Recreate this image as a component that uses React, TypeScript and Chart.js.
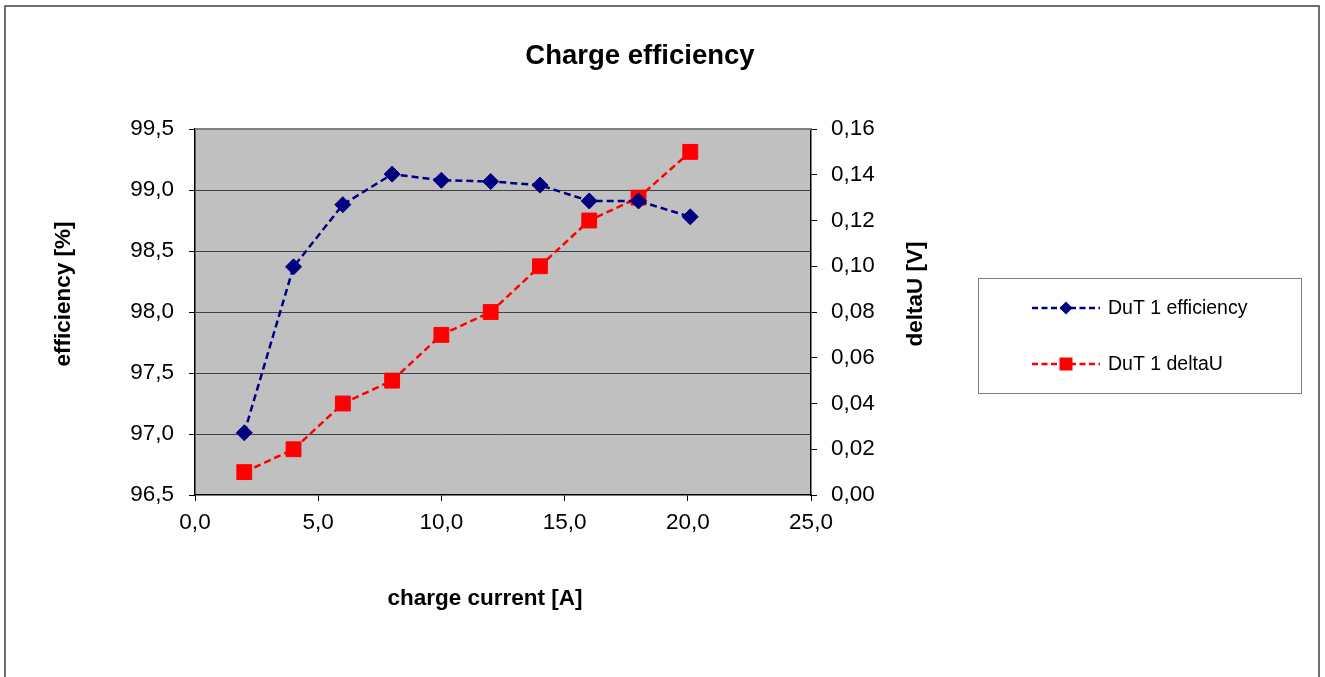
import React, { useEffect, useRef } from "react";
import { Chart, registerables } from "chart.js";

Chart.register(...registerables);

// ---- data ----
const chargeCurrent = [2.0, 4.0, 6.0, 8.0, 10.0, 12.0, 14.0, 16.0, 18.0, 20.1];
const efficiency = [97.01, 98.37, 98.88, 99.13, 99.08, 99.07, 99.04, 98.91, 98.91, 98.78];
const deltaU = [0.01, 0.02, 0.04, 0.05, 0.07, 0.08, 0.1, 0.12, 0.13, 0.15];

const xTicks = [0, 5, 10, 15, 20, 25];
const effTicks = [96.5, 97.0, 97.5, 98.0, 98.5, 99.0, 99.5];
const duTicks = [0, 0.02, 0.04, 0.06, 0.08, 0.1, 0.12, 0.14, 0.16];

const seriesLabels = ["DuT 1 efficiency", "DuT 1 deltaU"];
const chartTitle = "Charge efficiency";
const xTitle = "charge current [A]";
const yLeftTitle = "efficiency [%]";
const yRightTitle = "deltaU [V]";

const FONT = '"Liberation Sans", Arial, Helvetica, sans-serif';
const NAVY = "#000080";
const RED = "#FF0000";

function drawMarker(ctx: CanvasRenderingContext2D, style: string, x: number, y: number, r: number, color: string) {
  ctx.save();
  ctx.fillStyle = color;
  ctx.beginPath();
  if (style === "rectRot") {
    ctx.moveTo(x, y - r);
    ctx.lineTo(x + r, y);
    ctx.lineTo(x, y + r);
    ctx.lineTo(x - r, y);
    ctx.closePath();
  } else {
    ctx.rect(x - r, y - r, 2 * r, 2 * r);
  }
  ctx.fill();
  ctx.restore();
}

const decor = {
  id: "decor",
  beforeDraw(chart: any) {
    const { ctx, chartArea: a } = chart;
    ctx.save();
    ctx.fillStyle = "#FFFFFF";
    ctx.fillRect(0, 0, chart.width, chart.height);
    ctx.fillStyle = "#C0C0C0";
    ctx.fillRect(a.left, a.top, a.right - a.left, a.bottom - a.top);
    ctx.restore();
  },
  beforeDatasetsDraw(chart: any) {
    const { ctx, chartArea: a } = chart;
    ctx.save();
    ctx.strokeStyle = "#808080";
    ctx.lineWidth = 2;
    ctx.beginPath();
    ctx.moveTo(a.left, a.top);
    ctx.lineTo(a.right, a.top);
    ctx.stroke();
    ctx.restore();
  },
  afterDraw(chart: any) {
    const { ctx } = chart;
    ctx.save();
    // outer frame
    ctx.strokeStyle = "#404040";
    ctx.lineWidth = 1.5;
    ctx.strokeRect(5, 6, 1314, 700);

    ctx.fillStyle = "#000";
    // chart title
    ctx.font = `bold 27.5px ${FONT}`;
    ctx.textAlign = "center";
    ctx.textBaseline = "middle";
    ctx.fillText(chartTitle, 640, 56);

    // axis titles
    ctx.font = `bold 22.5px ${FONT}`;
    ctx.fillText(xTitle, 485, 599);

    ctx.save();
    ctx.translate(64, 294);
    ctx.rotate(-Math.PI / 2);
    ctx.fillText(yLeftTitle, 0, 0);
    ctx.restore();

    ctx.save();
    ctx.translate(916, 294);
    ctx.rotate(-Math.PI / 2);
    ctx.fillText(yRightTitle, 0, 0);
    ctx.restore();

    // legend
    ctx.strokeStyle = "#808080";
    ctx.lineWidth = 1;
    ctx.strokeRect(978.5, 278.5, 323, 115);
    const rows = [308, 364];
    chart.data.datasets.forEach((ds: any, i: number) => {
      const y = rows[i];
      ctx.save();
      ctx.strokeStyle = ds.borderColor;
      ctx.lineWidth = 2.5;
      ctx.setLineDash([6, 3.5]);
      ctx.beginPath();
      ctx.moveTo(1032, y);
      ctx.lineTo(1100, y);
      ctx.stroke();
      ctx.restore();
      if (ds.pointStyle === "rectRot") drawMarker(ctx, "rectRot", 1066, y, 6.5, ds.borderColor);
      else drawMarker(ctx, "rect", 1066, y, 6.5, ds.borderColor);
      ctx.fillStyle = "#000";
      ctx.font = `19.5px ${FONT}`;
      ctx.textAlign = "left";
      ctx.textBaseline = "middle";
      ctx.fillText(ds.label, 1108, y + 1);
    });
    ctx.restore();
  },
};

const fmt = (d: number) => (v: any) => Number(v).toFixed(d).replace(".", ",");

export default function App() {
  const ref = useRef<HTMLCanvasElement | null>(null);

  useEffect(() => {
    document.body.style.margin = "0";
    document.body.style.overflow = "hidden";
    const canvas = ref.current;
    if (!canvas) return;
    const tickFont = { family: FONT, size: 22.5 };
    const chart = new Chart(canvas, {
      type: "line",
      data: {
        datasets: [
          {
            label: seriesLabels[0],
            data: chargeCurrent.map((x, i) => ({ x, y: efficiency[i] })),
            yAxisID: "y",
            borderColor: NAVY,
            backgroundColor: NAVY,
            borderWidth: 2.5,
            borderDash: [7, 4],
            pointStyle: "rectRot",
            pointRadius: 8,
            pointBorderWidth: 1,
            pointBackgroundColor: NAVY,
            pointBorderColor: NAVY,
            tension: 0,
            fill: false,
          },
          {
            label: seriesLabels[1],
            data: chargeCurrent.map((x, i) => ({ x, y: deltaU[i] })),
            yAxisID: "y1",
            borderColor: RED,
            backgroundColor: RED,
            borderWidth: 2.5,
            borderDash: [7, 4],
            pointStyle: "rect",
            pointRadius: 10.5,
            pointBorderWidth: 1,
            pointBackgroundColor: RED,
            pointBorderColor: RED,
            tension: 0,
            fill: false,
          },
        ],
      },
      options: {
        responsive: false,
        animation: false,
        devicePixelRatio: 1,
        layout: { padding: { top: 129, left: 0, right: 394, bottom: 0 } },
        plugins: {
          legend: { display: false },
          title: { display: false },
          tooltip: { enabled: false },
        },
        scales: {
          x: {
            type: "linear",
            position: "bottom",
            min: 0,
            max: 25,
            afterFit: (s: any) => {
              s.height = 182;
            },
            afterBuildTicks: (s: any) => {
              s.ticks = xTicks.map((v) => ({ value: v }));
            },
            ticks: { callback: fmt(1), font: tickFont, color: "#000", padding: 8, maxRotation: 0, autoSkip: false },
            grid: { drawOnChartArea: false, drawTicks: true, tickLength: 6, tickColor: "#000", tickWidth: 1 },
            border: { display: true, color: "#000", width: 1.5 },
          },
          y: {
            type: "linear",
            position: "left",
            min: 96.5,
            max: 99.5,
            afterFit: (s: any) => {
              s.width = 195;
            },
            afterBuildTicks: (s: any) => {
              s.ticks = effTicks.map((v) => ({ value: v }));
            },
            ticks: { callback: fmt(1), font: tickFont, color: "#000", padding: 15, autoSkip: false },
            grid: {
              drawOnChartArea: true,
              drawTicks: true,
              tickLength: 6,
              tickColor: "#000",
              lineWidth: 1,
              color: (c: any) =>
                c.tick && (c.tick.value === 96.5 || c.tick.value === 99.5) ? "rgba(0,0,0,0)" : "#404040",
            },
            border: { display: true, color: "#000", width: 1.5 },
          },
          y1: {
            type: "linear",
            position: "right",
            min: 0,
            max: 0.16,
            afterFit: (s: any) => {
              s.width = 120;
            },
            afterBuildTicks: (s: any) => {
              s.ticks = duTicks.map((v) => ({ value: v }));
            },
            ticks: { callback: fmt(2), font: tickFont, color: "#000", padding: 14, autoSkip: false },
            grid: { drawOnChartArea: false, drawTicks: true, tickLength: 6, tickColor: "#000" },
            border: { display: true, color: "#000", width: 1.5 },
          },
        },
      },
      plugins: [decor],
    } as any);
    return () => chart.destroy();
  }, []);

  return <canvas ref={ref} width={1325} height={677} style={{ display: "block" }} />;
}
